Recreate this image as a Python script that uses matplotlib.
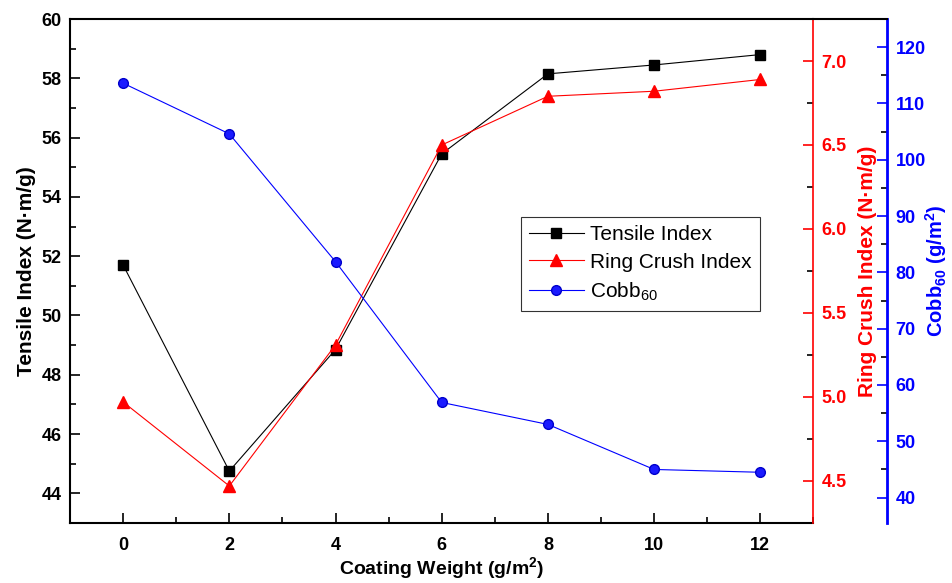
import matplotlib
matplotlib.use('Agg')
import matplotlib.pyplot as plt
from matplotlib.ticker import MultipleLocator, FormatStrFormatter
from matplotlib.lines import Line2D

plt.rcParams['font.family'] = ['Liberation Sans', 'DejaVu Sans']
plt.rcParams['mathtext.fontset'] = 'custom'
plt.rcParams['mathtext.rm'] = 'Liberation Sans'
plt.rcParams['mathtext.bf'] = 'Liberation Sans:bold'

coating = [0, 2, 4, 6, 8, 10, 12]
tensile = [51.7, 44.75, 48.85, 55.45, 58.15, 58.45, 58.8]
ring_crush = [4.97, 4.47, 5.31, 6.50, 6.79, 6.82, 6.89]
cobb60 = [113.6, 104.6, 81.9, 56.9, 53.0, 45.0, 44.5]

fig = plt.figure(figsize=(9.53, 5.83), dpi=100)
ax = fig.add_axes([0.0735, 0.103, 0.78, 0.8644])
ax2 = ax.twinx()
ax3 = ax.twinx()

l1, = ax.plot(coating, tensile, 'k-s', lw=0.8, ms=6.5, label='Tensile Index')
l2, = ax2.plot(coating, ring_crush, 'r-^', lw=0.8, ms=8, label='Ring Crush Index')
l3, = ax3.plot(coating, cobb60, '-o', color='#0000ff', lw=0.8, ms=7,
               mfc='#1a1aff', mec='#0000cc', label='Cobb$_{60}$')

ax.set_xlim(-1, 13)
ax.set_ylim(43, 60)
ax2.set_ylim(4.25, 7.25)
ax3.set_ylim(35.5, 125)

ax.xaxis.set_major_locator(MultipleLocator(2))
ax.xaxis.set_minor_locator(MultipleLocator(1))
ax.yaxis.set_major_locator(MultipleLocator(2))
ax.yaxis.set_minor_locator(MultipleLocator(1))
ax2.yaxis.set_major_locator(MultipleLocator(0.5))
ax2.yaxis.set_minor_locator(MultipleLocator(0.25))
ax3.yaxis.set_major_locator(MultipleLocator(10))
ax3.yaxis.set_minor_locator(MultipleLocator(5))
ax2.yaxis.set_major_formatter(FormatStrFormatter('%.1f'))

for a in (ax, ax2, ax3):
    a.tick_params(which='both', direction='in', width=1.2, labelsize=13)
    a.tick_params(which='major', length=7)
    a.tick_params(which='minor', length=4)

ax.tick_params(axis='x', pad=10)
ax.tick_params(axis='y', pad=6)
for s in ('left', 'bottom', 'top'):
    ax.spines[s].set_linewidth(1.5)
ax.spines['right'].set_visible(False)

ax2.spines['right'].set_color('red')
ax2.spines['right'].set_linewidth(1.2)
ax2.tick_params(axis='y', colors='red', pad=6)
for s in ('left', 'bottom', 'top'):
    ax2.spines[s].set_visible(False)

ax3.spines['right'].set_position(('outward', 53.3))
ax3.spines['right'].set_color('#0000ff')
ax3.spines['right'].set_linewidth(2.0)
ax3.tick_params(axis='y', colors='#0000ff', pad=6)
for s in ('left', 'bottom', 'top'):
    ax3.spines[s].set_visible(False)

for a in (ax, ax2, ax3):
    for lab in a.get_xticklabels() + a.get_yticklabels():
        lab.set_fontweight('bold')

ax.set_xlabel('Coating Weight (g/m$^{\\mathbf{2}}$)', fontsize=14, fontweight='bold', labelpad=1)
ax.set_ylabel('Tensile Index (N\u00b7m/g)', fontsize=15, fontweight='bold', labelpad=4)
ax2.set_ylabel('Ring Crush Index (N\u00b7m/g)', fontsize=15, fontweight='bold', color='red', labelpad=8)
ax3.set_ylabel('Cobb$_{\\mathbf{60}}$ (g/m$^{\\mathbf{2}}$)', fontsize=14.5, fontweight='bold',
               color='#0000ff', labelpad=-2)

# top border continues over to the outer blue axis
fig.add_artist(Line2D([0.853, 0.931], [0.9674, 0.9674], color='black', lw=1.5))

leg = ax.legend(handles=[l1, l2, l3], loc='upper left',
                bbox_to_anchor=(521 / 953, 1 - 217 / 583), bbox_transform=fig.transFigure,
                borderaxespad=0, fontsize=15, frameon=True, fancybox=False, edgecolor='black',
                handlelength=2.6, borderpad=0.4, labelspacing=0.4, handletextpad=0.3)
leg.get_frame().set_linewidth(0.8)

fig.savefig('out.png', dpi=100)
plt.close(fig)
